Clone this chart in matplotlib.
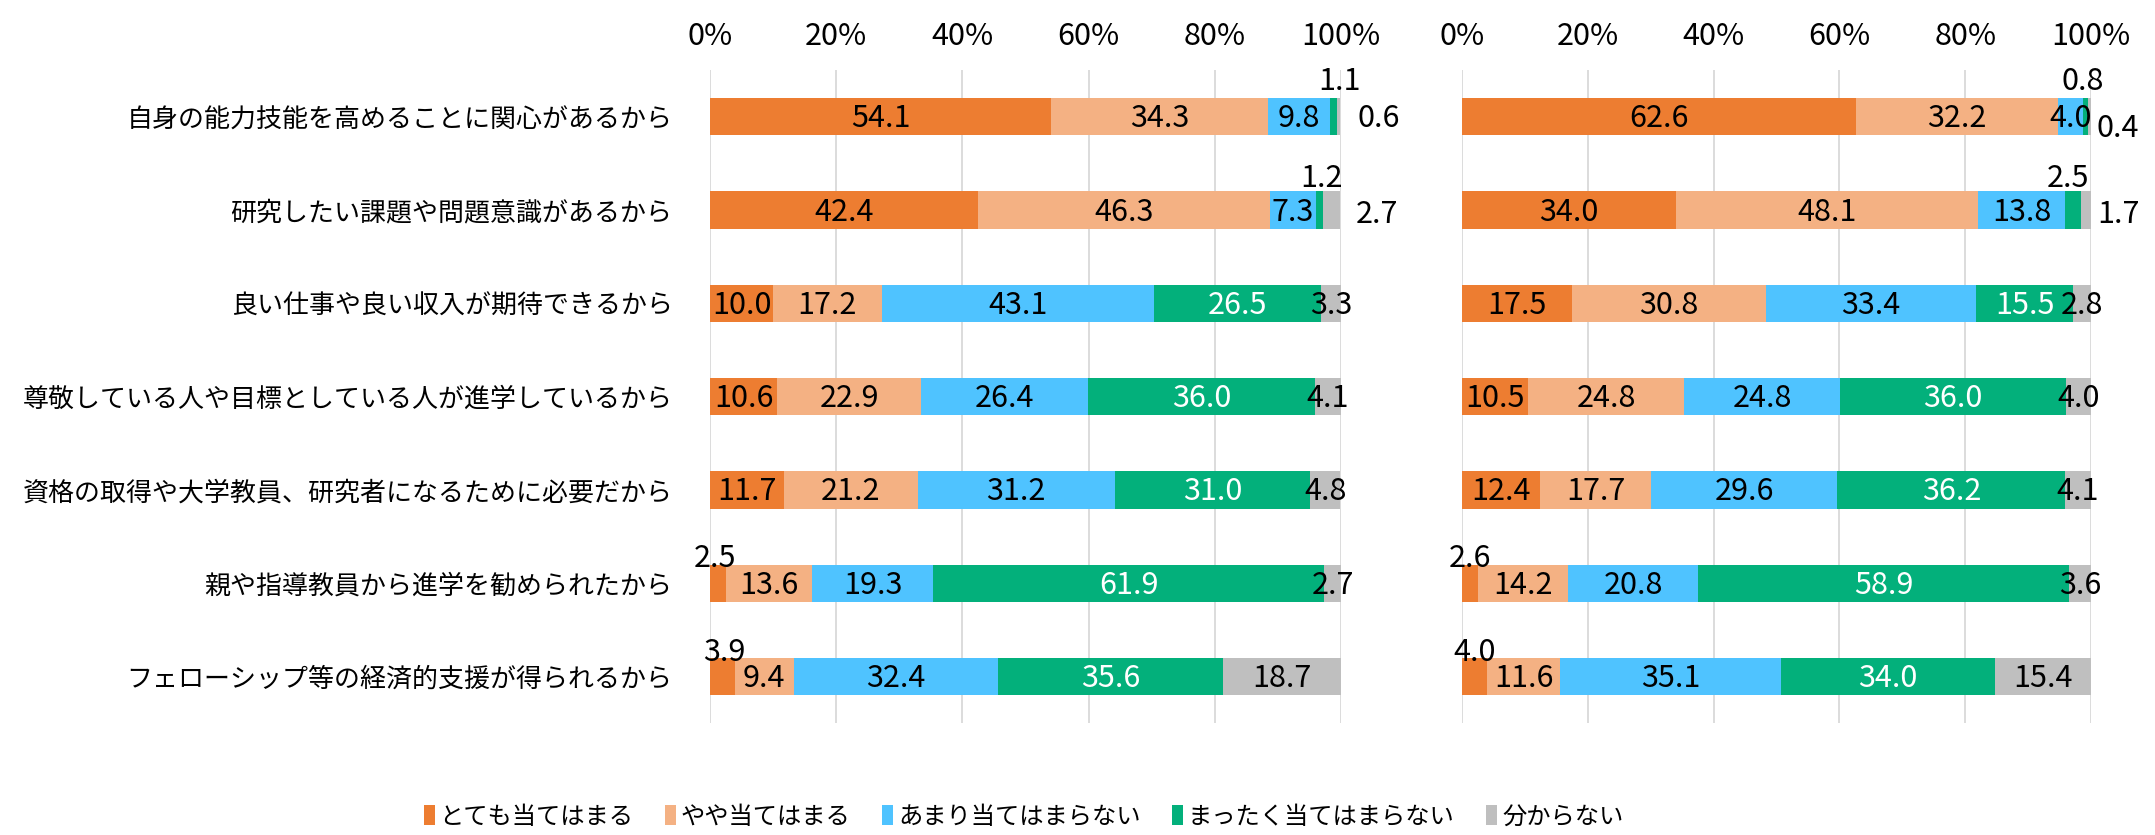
import matplotlib.pyplot as plt
import numpy as np

plt.rcParams['font.family'] = ['Noto Sans CJK JP', 'DejaVu Sans']

categories = [
    '自身の能力技能を高めることに関心があるから',
    '研究したい課題や問題意識があるから',
    '良い仕事や良い収入が期待できるから',
    '尊敬している人や目標としている人が進学しているから',
    '資格の取得や大学教員、研究者になるために必要だから',
    '親や指導教員から進学を勧められたから',
    'フェローシップ等の経済的支援が得られるから',
]
series = ['とても当てはまる', 'やや当てはまる', 'あまり当てはまらない', 'まったく当てはまらない', '分からない']
colors = ['#ED7D31', '#F4B183', '#4FC3FF', '#03B07B', '#BFBFBF']
text_colors = ['black', 'black', 'black', 'white', 'black']

left_values = [
    [54.1, 34.3, 9.8, 1.1, 0.6],
    [42.4, 46.3, 7.3, 1.2, 2.7],
    [10.0, 17.2, 43.1, 26.5, 3.3],
    [10.6, 22.9, 26.4, 36.0, 4.1],
    [11.7, 21.2, 31.2, 31.0, 4.8],
    [2.5, 13.6, 19.3, 61.9, 2.7],
    [3.9, 9.4, 32.4, 35.6, 18.7],
]
right_values = [
    [62.6, 32.2, 4.0, 0.8, 0.4],
    [34.0, 48.1, 13.8, 2.5, 1.7],
    [17.5, 30.8, 33.4, 15.5, 2.8],
    [10.5, 24.8, 24.8, 36.0, 4.0],
    [12.4, 17.7, 29.6, 36.2, 4.1],
    [2.6, 14.2, 20.8, 58.9, 3.6],
    [4.0, 11.6, 35.1, 34.0, 15.4],
]

# labels that sit outside their segment: (row, series) -> (anchor, dx px, dy px)
left_moves = {
    (0, 3): ('c', 6, -37), (0, 4): ('end', 17, 0),
    (1, 3): ('c', 2, -34), (1, 4): ('end', 15, 2),
    (5, 0): ('c', -3, -27), (6, 0): ('c', 2, -26),
}
right_moves = {
    (0, 3): ('c', -3, -37), (0, 4): ('end', 6, 10),
    (1, 3): ('c', -5, -34), (1, 4): ('end', 6, 2),
    (5, 0): ('c', 0, -27), (6, 0): ('c', 0, -26),
}

FS_NUM = 22
FS_CAT = 18.7
FS_LEG = 17.5
fig = plt.figure(figsize=(21.55, 8.35), dpi=100)
ax_l = fig.add_axes([0.3295, 0.134, 0.2928, 0.782])
ax_r = fig.add_axes([0.6784, 0.134, 0.2919, 0.782])


def draw_panel(ax, values, moves, show_labels):
    vals = np.array(values)
    y = np.arange(len(categories))
    left = np.zeros(len(categories))
    for j, name in enumerate(series):
        ax.barh(y, vals[:, j], left=left, height=0.4, color=colors[j],
                label=name, zorder=2)
        for i in range(len(categories)):
            v = vals[i, j]
            xc = left[i] + v / 2
            anchor, dx, dy = moves.get((i, j), ('c', 0, 0))
            ha = 'center'
            color = text_colors[j]
            if anchor == 'end':
                xc = vals[i].sum()
                ha = 'left'
                color = 'black'
            elif (i, j) in moves:
                color = 'black'
            ax.annotate(f'{v:.1f}', (xc, y[i]), xytext=(dx * 0.72, -(dy + 2) * 0.72),
                        textcoords='offset points', ha=ha, va='center',
                        fontsize=FS_NUM, color=color, zorder=3, annotation_clip=False)
        left += vals[:, j]
    ax.set_xlim(0, 100)
    ax.set_ylim(len(categories) - 0.5, -0.5)
    ax.set_xticks(np.arange(0, 101, 20))
    ax.set_xticklabels([f'{t}%' for t in range(0, 101, 20)], fontsize=FS_NUM)
    ax.xaxis.tick_top()
    ax.tick_params(axis='x', length=0, pad=13)
    ax.grid(axis='x', color='#D9D9D9', linewidth=1.3, zorder=0)
    ax.set_axisbelow(True)
    for s in ax.spines.values():
        s.set_visible(False)
    ax.set_yticks(y)
    if show_labels:
        ax.set_yticklabels(categories, fontsize=FS_CAT)
        ax.tick_params(axis='y', length=0, pad=27)
    else:
        ax.set_yticklabels([])
        ax.tick_params(axis='y', length=0)


draw_panel(ax_l, left_values, left_moves, True)
draw_panel(ax_r, right_values, right_moves, False)

handles, labels = ax_l.get_legend_handles_labels()
fig.legend(handles, labels, loc='center', bbox_to_anchor=(0.475, 0.022), ncol=5,
           frameon=False, fontsize=FS_LEG, handlelength=0.45, handleheight=0.9,
           handletextpad=0.2, columnspacing=1.3)

fig.savefig('out.png', dpi=100)
